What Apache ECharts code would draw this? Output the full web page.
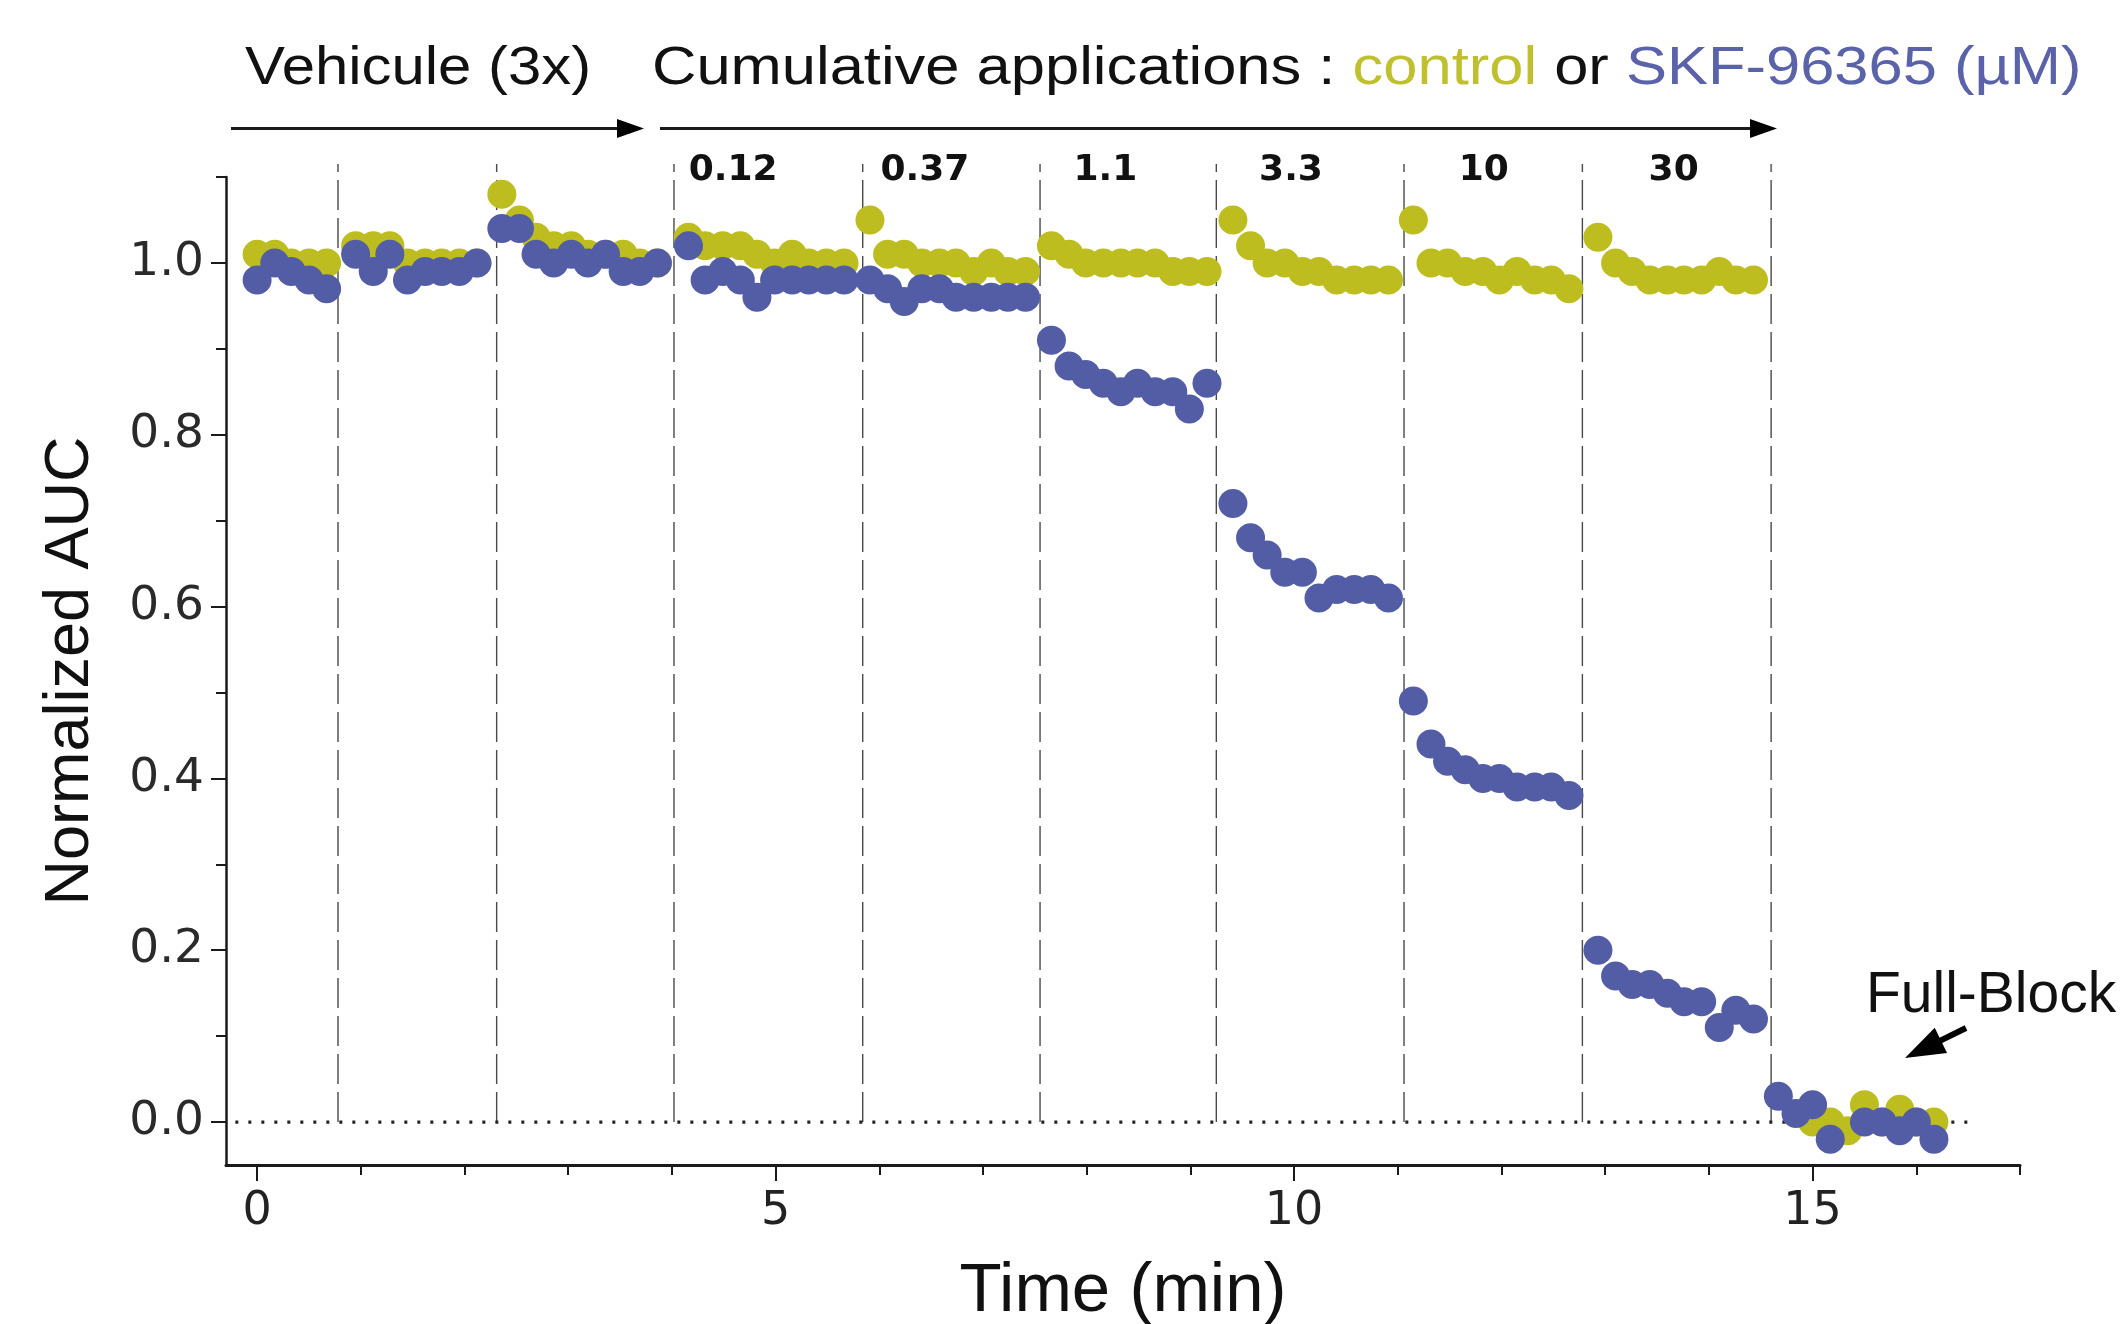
<!DOCTYPE html>
<html>
<head>
<meta charset="utf-8">
<script src="https://cdn.jsdelivr.net/npm/echarts@6/dist/echarts.min.js"></script>
<style>
html,body{margin:0;padding:0;background:#fff;}
#c{width:2124px;height:1324px;}
</style>
</head>
<body>
<div id="c"></div>
<script>
// ---------------- data ----------------
const timeMin = [
  0.00,0.17,0.33,0.50,0.67,
  0.95,1.12,1.28,1.45,1.62,1.78,1.95,2.12,
  2.36,2.53,2.69,2.86,3.03,3.19,3.36,3.53,3.69,3.86,
  4.16,4.32,4.49,4.66,4.82,4.99,5.16,5.32,5.49,5.66,
  5.91,6.08,6.24,6.41,6.58,6.74,6.91,7.08,7.24,7.41,
  7.66,7.83,7.99,8.16,8.33,8.49,8.66,8.83,8.99,9.16,
  9.41,9.58,9.74,9.91,10.08,10.24,10.41,10.58,10.74,10.91,
  11.15,11.32,11.48,11.65,11.82,11.98,12.15,12.32,12.48,12.65,
  12.93,13.10,13.26,13.43,13.60,13.76,13.93,14.10,14.26,14.43,
  14.67,14.84,15.00,15.17,15.34,15.50,15.67,15.84,16.00,16.17
];
const controlAUC = [
  1.01,1.01,1.00,1.00,1.00,
  1.02,1.02,1.02,1.00,1.00,1.00,1.00,1.00,
  1.08,1.05,1.03,1.02,1.02,1.01,1.01,1.01,1.00,1.00,
  1.03,1.02,1.02,1.02,1.01,1.00,1.01,1.00,1.00,1.00,
  1.05,1.01,1.01,1.00,1.00,1.00,0.99,1.00,0.99,0.99,
  1.02,1.01,1.00,1.00,1.00,1.00,1.00,0.99,0.99,0.99,
  1.05,1.02,1.00,1.00,0.99,0.99,0.98,0.98,0.98,0.98,
  1.05,1.00,1.00,0.99,0.99,0.98,0.99,0.98,0.98,0.97,
  1.03,1.00,0.99,0.98,0.98,0.98,0.98,0.99,0.98,0.98,
  null,null,0.00,0.00,-0.01,0.02,0.00,0.015,0.00,0.00
];
const skfAUC = [
  0.98,1.00,0.99,0.98,0.97,
  1.01,0.99,1.01,0.98,0.99,0.99,0.99,1.00,
  1.04,1.04,1.01,1.00,1.01,1.00,1.01,0.99,0.99,1.00,
  1.02,0.98,0.99,0.98,0.96,0.98,0.98,0.98,0.98,0.98,
  0.98,0.97,0.955,0.97,0.97,0.96,0.96,0.96,0.96,0.96,
  0.91,0.88,0.87,0.86,0.85,0.86,0.85,0.85,0.83,0.86,
  0.72,0.68,0.66,0.64,0.64,0.61,0.62,0.62,0.62,0.61,
  0.49,0.44,0.42,0.41,0.40,0.40,0.39,0.39,0.39,0.38,
  0.20,0.17,0.16,0.16,0.15,0.14,0.14,0.11,0.13,0.12,
  0.03,0.01,0.02,-0.02,null,0.00,0.00,-0.01,0.00,-0.02
];
const phaseBoundaries = [0.78, 2.31, 4.02, 5.84, 7.55, 9.25, 11.06, 12.78, 14.60];
const concLabels = ['0.12', '0.37', '1.1', '3.3', '10', '30'];
const concLabelTime = [4.59, 6.44, 8.18, 9.97, 11.83, 13.66];
const xMajorTicks = [0, 5, 10, 15];
const xMinorTicks = [0,1,2,3,4,5,6,7,8,9,10,11,12,13,14,15,16,17];
const yMajorTicks = [0, 0.2, 0.4, 0.6, 0.8, 1.0];
const yMinorTicks = [0.1, 0.3, 0.5, 0.7, 0.9, 1.1];

// ---------------- chart ----------------
const FONT = '"Liberation Sans", Arial, Helvetica, sans-serif';
const TICKFONT = '"DejaVu Sans", "Liberation Sans", sans-serif';
const YELLOW = '#BDBD1F';
const BLUE = '#525DA6';
const INK = '#1a1a1a';

const toPairs = vals => timeMin.map((t, i) => vals[i] == null ? null : [t, vals[i]]).filter(Boolean);

const chart = echarts.init(document.getElementById('c'), null, {renderer: 'canvas', width: 2124, height: 1324});

const boundarySeries = phaseBoundaries.map(x => ({
  type: 'line', data: [[x, 0], [x, 1.115]], symbol: 'none', clip: false, silent: true, z: 1,
  lineStyle: {color: '#4a4a4a', width: 1.4, type: [30, 8]}
}));

const option = {
  backgroundColor: '#fff',
  animation: false,
  grid: {left: 226, right: 104, top: 177, bottom: 159, containLabel: false, outerBoundsMode: 'none'},
  xAxis: [
    {
      type: 'value', min: -0.3, max: 17, position: 'bottom',
      axisLine: {show: true, onZero: false, lineStyle: {color: INK, width: 3}},
      axisTick: {show: true, customValues: xMajorTicks, length: 16, lineStyle: {color: INK, width: 2}},
      axisLabel: {show: true, customValues: xMajorTicks, fontSize: 46, fontFamily: TICKFONT, color: '#222', margin: 24},
      splitLine: {show: false},
      name: 'Time (min)', nameLocation: 'middle', nameGap: 92,
      nameTextStyle: {fontSize: 69, fontFamily: FONT, color: '#111'}
    },
    {
      type: 'value', min: -0.3, max: 17, position: 'bottom',
      axisLine: {show: false, onZero: false},
      axisTick: {show: true, customValues: xMinorTicks, length: 10, lineStyle: {color: INK, width: 2}},
      axisLabel: {show: false},
      splitLine: {show: false}
    }
  ],
  yAxis: [
    {
      type: 'value', min: -0.05, max: 1.1, position: 'left',
      axisLine: {show: true, onZero: false, lineStyle: {color: INK, width: 2.5}},
      axisTick: {show: true, customValues: yMajorTicks, length: 15, lineStyle: {color: INK, width: 2}},
      axisLabel: {show: true, customValues: yMajorTicks, fontSize: 47, fontFamily: TICKFONT, color: '#2a2a2a', margin: 22,
                  formatter: v => Number(v).toFixed(1)},
      splitLine: {show: false},
      name: 'Normalized AUC', nameLocation: 'middle', nameRotate: 90, nameGap: 124,
      nameTextStyle: {fontSize: 63, fontFamily: FONT, color: '#111'}
    },
    {
      type: 'value', min: -0.05, max: 1.1, position: 'left',
      axisLine: {show: false, onZero: false},
      axisTick: {show: true, customValues: yMinorTicks, length: 10, lineStyle: {color: INK, width: 2}},
      axisLabel: {show: false},
      splitLine: {show: false}
    }
  ],
  series: [
    ...boundarySeries,
    {
      type: 'line', data: [[-0.21, 0], [16.58, 0]], symbol: 'none', silent: true, z: 1, clip: false,
      lineStyle: {color: '#222', width: 3.2, type: [3, 10]}
    },
    {
      name: 'control', type: 'scatter', data: toPairs(controlAUC), symbol: 'circle', symbolSize: 29,
      itemStyle: {color: YELLOW, opacity: 1}, z: 3
    },
    {
      name: 'SKF-96365', type: 'scatter', data: toPairs(skfAUC), symbol: 'circle', symbolSize: 29,
      itemStyle: {color: BLUE, opacity: 1}, z: 4
    }
  ]
};
chart.setOption(option);

// ---------------- annotations ----------------
function arrow(x1, y, x2, headLen, halfW, width) {
  return [
    {type: 'line', shape: {x1: x1, y1: y, x2: x2 - headLen + 2, y2: y}, style: {stroke: INK, lineWidth: width}},
    {type: 'polygon', shape: {points: [[x2, y], [x2 - headLen, y - halfW], [x2 - headLen, y + halfW]]}, style: {fill: '#000'}}
  ];
}
const HEADY = 128.5;
const graphics = [
  {type: 'text', x: 245, y: 69, scaleX: 1.13,
   style: {text: 'Vehicule (3x)', font: '53px ' + FONT, fill: '#111', textAlign: 'left', textVerticalAlign: 'middle'}},
  {type: 'text', x: 652, y: 69, scaleX: 1.16,
   style: {
     text: 'Cumulative applications : {c|control} or {s|SKF-96365 (µM)}',
     font: '53px ' + FONT, fill: '#111', textAlign: 'left', textVerticalAlign: 'middle',
     rich: {
       c: {fill: '#C0C02E', fontSize: 53, fontFamily: FONT},
       s: {fill: '#5A63AA', fontSize: 53, fontFamily: FONT}
     }
   }},
  ...arrow(231, HEADY, 644, 27, 9.5, 3.2),
  ...arrow(660, HEADY, 1777, 27, 9.5, 3.2)
];
concLabels.forEach((lab, i) => {
  const px = chart.convertToPixel({xAxisIndex: 0}, concLabelTime[i]);
  graphics.push({type: 'text', x: px, y: 171,
    style: {text: lab, font: 'bold 36px "DejaVu Sans", sans-serif', fill: '#111', textAlign: 'center', textVerticalAlign: 'middle'}});
});
// Full-Block annotation
const tip = [1905, 1058], tail = [1966, 1028];
const dx = tip[0] - tail[0], dy = tip[1] - tail[1];
const L = Math.hypot(dx, dy), ux = dx / L, uy = dy / L, nx = -uy, ny = ux;
const HL = 40, HW = 14;
const bx = tip[0] - ux * HL, by = tip[1] - uy * HL;
graphics.push(
  {type: 'text', x: 1866, y: 996,
   style: {text: 'Full-Block', font: '57px ' + FONT, fill: '#111', textAlign: 'left', textVerticalAlign: 'middle'}},
  {type: 'line', shape: {x1: tail[0], y1: tail[1], x2: bx + ux * 4, y2: by + uy * 4}, style: {stroke: '#000', lineWidth: 6}},
  {type: 'polygon', shape: {points: [[tip[0], tip[1]], [bx + nx * HW, by + ny * HW], [bx - nx * HW, by - ny * HW]]}, style: {fill: '#000'}}
);
chart.setOption({graphic: {elements: graphics}});
</script>
</body>
</html>
